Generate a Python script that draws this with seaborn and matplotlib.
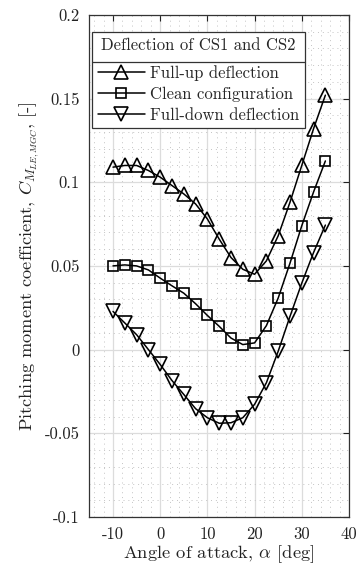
import numpy as np
import pandas as pd
import matplotlib
matplotlib.use("Agg")
import matplotlib.pyplot as plt
from matplotlib.lines import Line2D
from matplotlib.ticker import MultipleLocator
import seaborn as sns

alpha = [-10, -7.5, -5, -2.5, 0, 2.5, 5, 7.5, 10, 12.5, 15, 17.5, 20,
         22.5, 25, 27.5, 30, 32.5, 35]
full_up = [0.109, 0.110, 0.110, 0.107, 0.103, 0.098, 0.093, 0.087, 0.078,
           0.066, 0.055, 0.048, 0.045, 0.053, 0.068, 0.088, 0.110, 0.132, 0.152]
clean = [0.050, 0.0506, 0.050, 0.0476, 0.0427, 0.0381, 0.0337, 0.0274, 0.0204,
         0.0139, 0.0069, 0.003, 0.004, 0.0143, 0.0308, 0.0516, 0.074, 0.0942, 0.1127]
full_down = [0.0228, 0.0159, 0.0089, 0.0, -0.0089, -0.0185, -0.0268, -0.0353, -0.0407,
             -0.044, -0.0437, -0.0407, -0.0327, -0.0198, -0.001, 0.0198, 0.0397, 0.058, 0.0744]
series_names = ["Full-up deflection", "Clean configuration", "Full-down deflection"]
legend_title = "Deflection of CS1 and CS2"
xticks = [-10, 0, 10, 20, 30, 40]
yticks = [-0.1, -0.05, 0, 0.05, 0.1, 0.15, 0.2]
ytick_labels = ["-0.1", "-0.05", "0", "0.05", "0.1", "0.15", "0.2"]

sns.set_theme(style="white")
plt.rcParams["font.family"] = ["cmr10", "DejaVu Serif"]
plt.rcParams["mathtext.fontset"] = "cm"
plt.rcParams["axes.unicode_minus"] = False
plt.rcParams["axes.formatter.use_mathtext"] = True

fig = plt.figure(figsize=(3.62, 5.70), dpi=100)
ax = fig.add_axes([0.247, 0.093, 0.717, 0.881])

df = pd.DataFrame({
    "alpha": alpha * 3,
    "cm": full_up + clean + full_down,
    "series": sum([[n] * len(alpha) for n in series_names], []),
})
markers = {"Full-up deflection": "^", "Clean configuration": "s", "Full-down deflection": "v"}
sizes = {"Full-up deflection": 10, "Clean configuration": 7.5, "Full-down deflection": 10}
for name in series_names:
    sub = df[df["series"] == name]
    sns.lineplot(data=sub, x="alpha", y="cm", ax=ax, color="black", lw=1.1,
                 marker=markers[name], markersize=sizes[name], markerfacecolor="none",
                 markeredgecolor="black", markeredgewidth=1.2, label=name, legend=False,
                 zorder=3)

ax.set_xlim(-15, 40)
ax.set_ylim(-0.1, 0.2)
ax.set_xticks(xticks)
ax.set_xticklabels([str(t) for t in xticks])
ax.set_yticks(yticks)
ax.set_yticklabels(ytick_labels)
ax.xaxis.set_minor_locator(MultipleLocator(2))
ax.yaxis.set_minor_locator(MultipleLocator(0.01))
ax.grid(True, which="major", color="#dcdcdc", lw=0.9, zorder=0)
ax.grid(True, which="minor", color="#c4c4c4", lw=0.7, ls=(0, (1, 4)), zorder=0)
ax.tick_params(which="major", direction="in", top=True, right=True, length=4,
               width=0.8, labelsize=12, colors="#222222", pad=7)
ax.tick_params(which="minor", length=0)
for s in ax.spines.values():
    s.set_color("#333333")
    s.set_linewidth(0.9)
ax.set_xlabel(r"Angle of attack, $\alpha$ [deg]", fontsize=13.3, color="#222222", labelpad=1)
ax.set_ylabel(r"Pitching moment coefficient, $C_{M_{LE,MGC}}$, [-]", fontsize=13.2,
              color="#222222", labelpad=3)

handles = [Line2D([], [], color="black", lw=1.1, marker=markers[n], markersize=sizes[n],
                  markerfacecolor="none", markeredgecolor="black", markeredgewidth=1.2)
           for n in series_names]
leg = ax.legend(handles, series_names, title=legend_title, loc="upper left",
                bbox_to_anchor=(0.01, 0.966), fontsize=12, title_fontsize=12,
                frameon=True, fancybox=False, edgecolor="#333333", framealpha=1,
                handlelength=2.8, handletextpad=0.3, borderpad=0.35, labelspacing=0.34,
                borderaxespad=0)
leg.get_frame().set_linewidth(0.9)
leg.set_zorder(5)
leg._legend_box.sep = 8.5

fig.canvas.draw()
r = fig.canvas.get_renderer()
lb = leg.get_window_extent(r)
tb = leg.get_title().get_window_extent(r)
ysep = tb.y0 - 8.5
inv = fig.transFigure.inverted()
(x0, y0) = inv.transform((lb.x0, ysep))
(x1, _) = inv.transform((lb.x1, ysep))
fig.add_artist(Line2D([x0, x1], [y0, y0], color="#333333", lw=0.9, zorder=6))

fig.savefig("out.png", dpi=100)
